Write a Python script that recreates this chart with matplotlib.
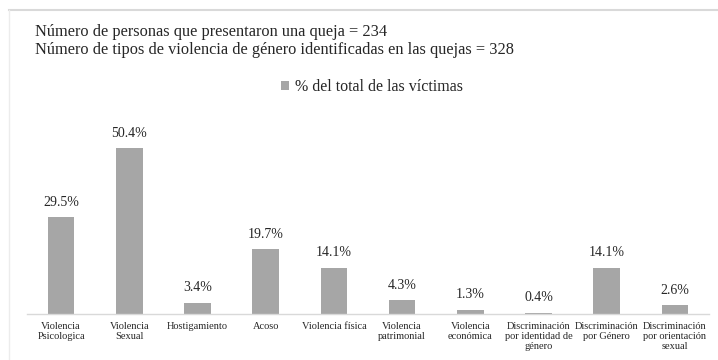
import matplotlib
matplotlib.use("Agg")
import matplotlib.pyplot as plt
from matplotlib.lines import Line2D
from matplotlib.patches import Patch

categories = [
    "Violencia\nPsicologica",
    "Violencia\nSexual",
    "Hostigamiento",
    "Acoso",
    "Violencia física",
    "Violencia\npatrimonial",
    "Violencia\neconómica",
    "Discriminación\npor identidad de\ngénero",
    "Discriminación\npor Género",
    "Discriminación\npor orientación\nsexual",
]
values = [29.5, 50.4, 3.4, 19.7, 14.1, 4.3, 1.3, 0.4, 14.1, 2.6]
value_labels = ["29.5%", "50.4%", "3.4%", "19.7%", "14.1%", "4.3%", "1.3%", "0.4%", "14.1%", "2.6%"]
header_lines = [
    "Número de personas que presentaron una queja = 234",
    "Número de tipos de violencia de género identificadas en las quejas = 328",
]
series_name = "% del total de las víctimas"

BAR = "#a6a6a6"
TEXT = "#262626"
GRID = "#d9d9d9"
SERIF = ["Liberation Serif", "DejaVu Serif"]

W, H = 718, 360
fig = plt.figure(figsize=(W / 100, H / 100), dpi=100)
fig.patch.set_facecolor("white")

# axes placed in pixel coordinates
left, right, top, bottom = 27, 709, 110, 314
ax = fig.add_axes([left / W, 1 - bottom / H, (right - left) / W, (bottom - top) / H])
x = list(range(len(categories)))
ax.bar(x, values, width=0.39, color=BAR, zorder=2)
ax.set_xlim(-0.5, len(categories) - 0.5)
ax.set_ylim(0, 62)

for xi, v, lab in zip(x, values, value_labels):
    ax.annotate(lab, (xi, v), xytext=(0, 6), textcoords="offset points",
                ha="center", va="bottom", fontsize=10, color=TEXT, family=SERIF)

for s in ["top", "right", "left"]:
    ax.spines[s].set_visible(False)
ax.spines["bottom"].set_color(GRID)
ax.spines["bottom"].set_linewidth(1.0)
ax.set_yticks([])
ax.set_xticks(x)
ax.set_xticklabels(categories, fontsize=7.5, color=TEXT, family=SERIF, linespacing=1.15)
ax.tick_params(axis="x", length=0, pad=6)

# header text
fig.text(35 / W, 1 - 32 / H, header_lines[0], fontsize=11.8, color=TEXT, family=SERIF, va="center")
fig.text(35 / W, 1 - 50 / H, header_lines[1], fontsize=11.8, color=TEXT, family=SERIF, va="center")

# legend
leg = fig.legend(handles=[Patch(facecolor=BAR, edgecolor="none", label=series_name)],
                 loc="center", bbox_to_anchor=(372 / W, 1 - 87 / H), frameon=False,
                 prop={"family": SERIF, "size": 11.5}, handlelength=0.5, handleheight=0.5,
                 handletextpad=0.4)
for t in leg.get_texts():
    t.set_color(TEXT)

# outer frame lines
fig.add_artist(Line2D([9 / W, 1], [1 - 10 / H, 1 - 10 / H], color=GRID, lw=1.5, transform=fig.transFigure))
fig.add_artist(Line2D([9 / W, 9 / W], [1 - 10 / H, 0], color="#ececec", lw=1.0, transform=fig.transFigure))

fig.savefig("out.png", dpi=100, facecolor="white")
